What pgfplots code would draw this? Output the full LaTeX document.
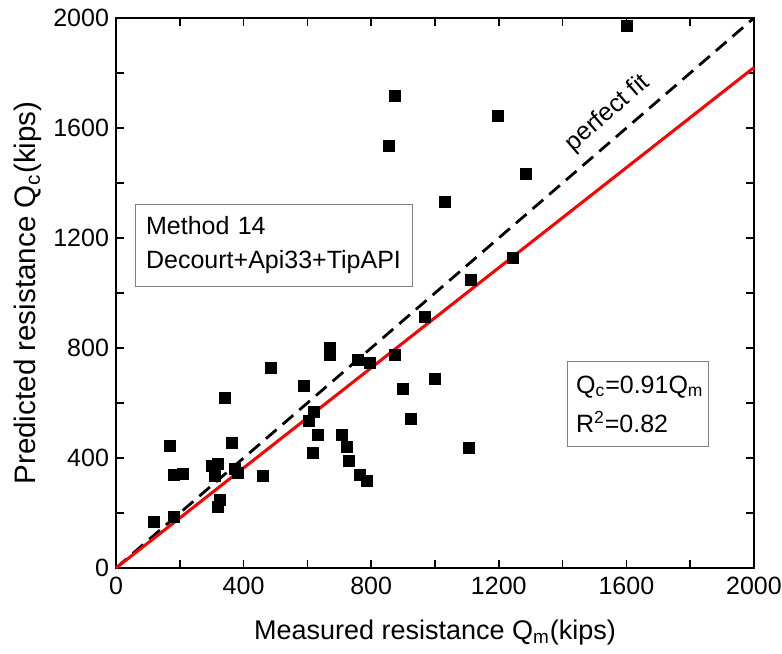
\documentclass[border=0pt]{standalone}
\usepackage{fontspec}
\setmainfont{Liberation Sans}
\usepackage{pgfplots}
\pgfplotsset{compat=1.18}
\begin{document}
\begin{tikzpicture}
\begin{axis}[
  scale only axis,
  width=319bp, height=275bp,
  xmin=0, xmax=2000, ymin=0, ymax=2000,
  xtick={0,400,...,2000}, ytick={0,400,...,2000},
  minor x tick num=1, minor y tick num=1,
  tick align=inside,
  major tick length=4bp, minor tick length=4bp,
  axis line style={line width=1bp},
  every tick/.style={line width=0.8bp, black},
  ticklabel style={font=\fontsize{12.5bp}{14bp}\selectfont},
  xticklabel style={yshift=-1bp},
  /pgf/number format/assume math mode=true,
  /pgf/number format/1000 sep={},
  xlabel={Measured resistance Q\textsubscript{m}(kips)},
  ylabel={Predicted resistance Q\textsubscript{c}(kips)},
  xlabel style={font=\fontsize{13.5bp}{16bp}\selectfont,
    at={(axis description cs:0.5,-0.1164)}, anchor=center},
  ylabel style={font=\fontsize{14.8bp}{17bp}\selectfont,
    at={(axis description cs:-0.138,0.5)}, anchor=center},
  clip=false,
]
\addplot[only marks, mark=square*, mark size=2.75bp, black] coordinates {
  (120,167) (180,185) (170,443) (180,338) (210,344) (340,620)
  (300,372) (318,378) (310,335) (325,247) (318,221) (362,455)
  (372,360) (382,345) (460,335) (487,727) (590,662) (605,536)
  (620,566) (632,484) (616,419) (670,800) (670,775) (707,484)
  (723,441) (730,389) (757,758) (765,338) (788,315) (797,745)
  (875,775) (898,650) (925,542) (968,912) (1000,688) (1105,437)
  (1113,1047) (1031,1330) (855,1535) (873,1717) (1197,1644)
  (1245,1126) (1285,1433) (1600,1970)
};
% perfect fit and regression line
\addplot[black, line width=1.4bp, dash pattern=on 7bp off 4bp] coordinates {(0,0) (2000,2000)};
\addplot[red, line width=1.5bp] coordinates {(0,0) (2000,1820)};
\node[rotate=41, font=\fontsize{12.5bp}{14bp}\selectfont] at (axis cs:1541,1653) {perfect fit};
\node[draw=gray, line width=0.5bp, anchor=north west, align=left,
      minimum width=138.5bp, minimum height=41bp, text width=128bp,
      font=\fontsize{12.5bp}{17bp}\selectfont] at (axis cs:60,1324)
  {Method 14\\Decourt+Api33+TipAPI};
\node[draw=gray, line width=0.5bp, anchor=north west, align=left,
      minimum width=70.5bp, minimum height=42.5bp, text width=62bp,
      font=\fontsize{12.5bp}{19.5bp}\selectfont] at (axis cs:1414,753)
  {Q\textsubscript{c}=0.91Q\textsubscript{m}\\R\textsuperscript{2}=0.82};
\coordinate (SW) at (rel axis cs:0,0);
\coordinate (NE) at (rel axis cs:1,1);
\end{axis}
\pgfresetboundingbox
\useasboundingbox ([shift={(-58bp,-43bp)}]SW) rectangle ([shift={(14bp,9bp)}]NE);
\end{tikzpicture}
\end{document}
